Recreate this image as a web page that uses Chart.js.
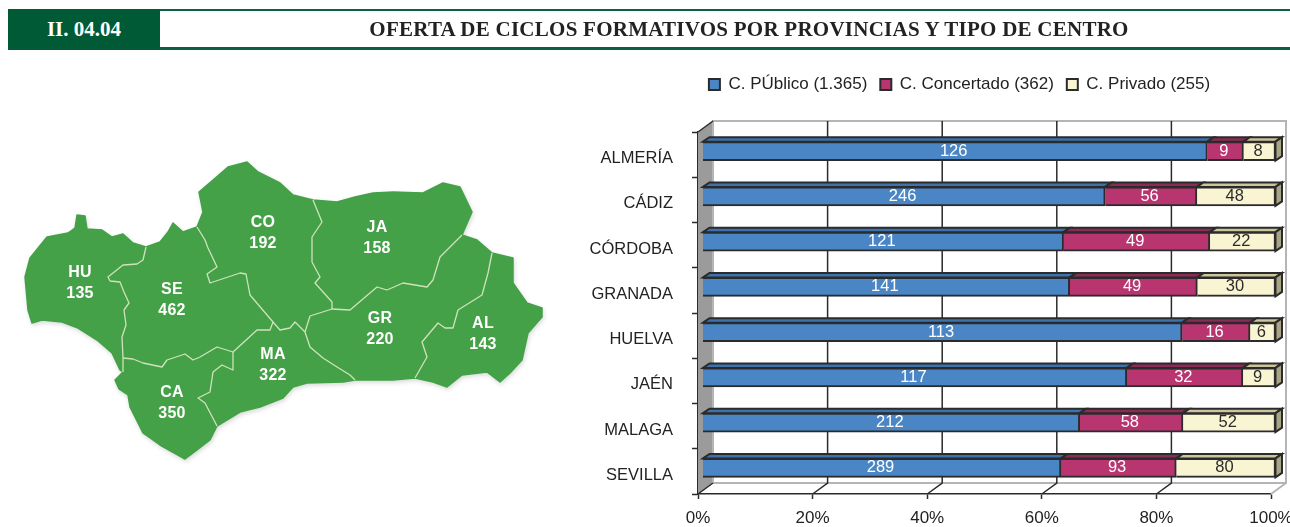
<!DOCTYPE html>
<html>
<head>
<meta charset="utf-8">
<title>Oferta de ciclos formativos</title>
<script src="https://cdn.jsdelivr.net/npm/chart.js@4"></script>
<style>
    html, body { margin: 0; padding: 0; background: #fff; overflow: hidden; }
    #page { position: relative; width: 1290px; height: 527px; }
    #myChart { position: absolute; left: 0; top: 0; }
    #code { position: absolute; left: 8px; top: 9px; width: 152px; height: 41px; background: #005a36; color: #fff; text-align: center; font: bold 21px/40px "Liberation Serif", serif; }
    #title { position: absolute; left: 160px; top: 9px; width: 1082px; padding-left: 48px; height: 36px; border-top: 2px solid #0b6141; border-bottom: 3px solid #0b6141; text-align: center; color: #222; font: bold 21px/36px "Liberation Serif", serif; letter-spacing: .25px; }
    #map { position: absolute; left: 0; top: 150px; filter: drop-shadow(1px 2px 2px rgba(0, 0, 0, .15)); }
    #map text { font: bold 16px "Liberation Sans", sans-serif; fill: #fff; text-anchor: middle; letter-spacing: .3px; }
</style>
</head>
<body>
<div id="page">
    <canvas id="myChart" width="1290" height="527"></canvas>
    <div id="code">II. 04.04</div>
    <div id="title">OFERTA DE CICLOS FORMATIVOS POR PROVINCIAS Y TIPO DE CENTRO</div>
    <svg id="map" width="560" height="330" viewBox="0 150 560 330"></svg>
</div>

<script>
// datos del grafico
const provincias = ["ALMERÍA", "CÁDIZ", "CÓRDOBA", "GRANADA", "HUELVA", "JAÉN", "MALAGA", "SEVILLA"];
const publico = [126, 246, 121, 141, 113, 117, 212, 289];
const concertado = [9, 56, 49, 49, 16, 32, 58, 93];
const privado = [8, 48, 22, 30, 6, 9, 52, 80];
const leyendas = ["C. PÚblico (1.365)", "C. Concertado (362)", "C. Privado (255)"];

// datos del mapa
const codigos = ["HU", "SE", "CO", "JA", "CA", "MA", "GR", "AL"];
const totales = [135, 462, 192, 158, 350, 322, 220, 143];
const labelPos = [[80, 277], [172, 294], [263, 227], [377, 232], [172, 397], [273, 359], [380, 323], [483, 328]];

// silueta de Andalucia y fronteras entre provincias
const silueta = "30,258 47,237 68,233 75,228 77,215 85,216 87,229 102,230 112,237 123,234 133,243 146,247 160,242 168,232 173,223 183,232 197,227 203,212 199,192 213,180 228,167 247,162 258,172 280,183 293,195 313,200 337,202 355,197 373,193 393,192 423,193 443,183 460,187 472,212 462,235 477,240 492,253 513,258 513,283 527,303 542,308 542,317 528,333 522,360 510,373 500,382 487,372 462,375 447,387 433,382 415,378 393,380 355,380 343,382 307,383 293,387 283,398 260,407 240,412 217,426 210,440 197,450 185,459 160,445 143,433 130,407 128,395 119,389 115,380 123,372 120,370 112,353 97,340 78,328 62,322 42,320 32,323 28,310 25,277";
const fronteras = [
    "146,247 143,260 137,264 123,265 108,277 110,281 120,282 124,292 129,303 124,310 126,325 122,337 123,358 123,372",
    "197,227 205,240 208,248 217,267 207,274 210,283 240,273 246,274 250,295 273,322 270,330 257,330 233,352 217,347 200,357 193,360 185,354 167,360 162,367 143,363 133,359 123,358",
    "217,426 205,403 198,398 210,392 213,372 222,365 233,370 233,352",
    "273,322 280,330 290,328 295,322 305,332 310,347 323,358 337,367 350,375 355,380",
    "305,332 310,316 332,309 350,310 377,287 387,290 403,283 427,287 433,280 440,257 452,245 462,235",
    "313,200 322,222 312,237 312,262 320,277 315,283 332,302 332,309",
    "492,253 488,273 482,295 458,310 453,328 445,328 438,323 422,342 427,357 415,378"
];

const map = document.querySelector("#map");
let svg = `<polygon points="${silueta}" fill="#44a148" stroke="#44a148" stroke-width="1.5" stroke-linejoin="round"/>`;
fronteras.forEach((f) => {
    svg += `<polyline points="${f}" fill="none" stroke="#cfe2bb" stroke-width="1.3" stroke-linejoin="round"/>`;
});
codigos.forEach((c, i) => {
    svg += `<text x="${labelPos[i][0]}" y="${labelPos[i][1]}">${c}</text>`;
    svg += `<text x="${labelPos[i][0]}" y="${labelPos[i][1] + 21}">${totales[i]}</text>`;
});
map.innerHTML = svg;

// cada barra va al 100%
function porcentaje(serie) {
    return serie.map((v, i) => v * 100 / (publico[i] + concertado[i] + privado[i]));
}

const LINE = "#2b2b2b";
const WALL = { x: 15, y: -11 };
const BAR = { x: 4.5, y: -3.5 };
const SIDE = { x: 6.5, y: -4.5 };

// pared del fondo, suelo y lineas de grid en falso 3D
const wallPlugin = {
    id: "wall",
    beforeDatasetsDraw(chart) {
        const { ctx, chartArea: a, scales } = chart;
        ctx.save();
        ctx.fillStyle = "#9b9b9b";
        ctx.beginPath();
        ctx.moveTo(a.left, a.top);
        ctx.lineTo(a.left + WALL.x, a.top + WALL.y);
        ctx.lineTo(a.left + WALL.x, a.bottom + WALL.y);
        ctx.lineTo(a.left, a.bottom);
        ctx.closePath();
        ctx.fill();

        ctx.strokeStyle = "#b5b5b5";
        ctx.lineWidth = 2;
        ctx.beginPath();
        ctx.moveTo(a.left + WALL.x, a.bottom + WALL.y);
        ctx.lineTo(a.left + WALL.x, a.top + WALL.y);
        ctx.lineTo(a.right + WALL.x, a.top + WALL.y);
        ctx.lineTo(a.right + WALL.x, a.bottom + WALL.y);
        ctx.lineTo(a.left + WALL.x, a.bottom + WALL.y);
        ctx.moveTo(a.right + WALL.x, a.bottom + WALL.y);
        ctx.lineTo(a.right, a.bottom);
        ctx.stroke();

        ctx.lineWidth = 1.5;
        ctx.strokeStyle = LINE;
        scales.x.ticks.forEach((t) => {
            const x = scales.x.getPixelForValue(t.value);
            if (t.value > 0 && t.value < 100) {
                ctx.beginPath();
                ctx.moveTo(x + WALL.x, a.top + WALL.y);
                ctx.lineTo(x + WALL.x, a.bottom + WALL.y);
                ctx.lineTo(x, a.bottom);
                ctx.stroke();
            }
        });
        ctx.beginPath();
        ctx.moveTo(a.left, a.top);
        ctx.lineTo(a.left + WALL.x, a.top + WALL.y);
        ctx.moveTo(a.left, a.bottom);
        ctx.lineTo(a.left + WALL.x, a.bottom + WALL.y);
        ctx.stroke();
        ctx.restore();
    }
};

// caras de arriba y lateral de las barras; las barras se desplazan un poco
const barPlugin = {
    id: "bars3d",
    beforeDatasetsDraw(chart) {
        const ctx = chart.ctx;
        ctx.save();
        ctx.translate(BAR.x, BAR.y);
        ctx.lineWidth = 2;
        ctx.strokeStyle = LINE;
        chart.data.datasets.forEach((ds, d) => {
            chart.getDatasetMeta(d).data.forEach((bar) => {
                const top = bar.y - bar.height / 2;
                const bottom = bar.y + bar.height / 2;
                ctx.fillStyle = ds.topColor;
                ctx.beginPath();
                ctx.moveTo(bar.base, top);
                ctx.lineTo(bar.base + SIDE.x, top + SIDE.y);
                ctx.lineTo(bar.x + SIDE.x, top + SIDE.y);
                ctx.lineTo(bar.x, top);
                ctx.closePath();
                ctx.fill();
                ctx.stroke();
                if (d === chart.data.datasets.length - 1) {
                    ctx.fillStyle = ds.sideColor;
                    ctx.beginPath();
                    ctx.moveTo(bar.x, top);
                    ctx.lineTo(bar.x + SIDE.x, top + SIDE.y);
                    ctx.lineTo(bar.x + SIDE.x, bottom + SIDE.y);
                    ctx.lineTo(bar.x, bottom);
                    ctx.closePath();
                    ctx.fill();
                    ctx.stroke();
                }
            });
        });
    },
    afterDatasetsDraw(chart) {
        const ctx = chart.ctx;
        // etiquetas con el numero de ciclos
        ctx.font = '16.5px "Liberation Sans"';
        ctx.textAlign = "center";
        ctx.textBaseline = "middle";
        chart.data.datasets.forEach((ds, d) => {
            chart.getDatasetMeta(d).data.forEach((bar, i) => {
                ctx.fillStyle = ds.labelColor;
                ctx.fillText(ds.counts[i], (bar.base + bar.x) / 2 - 1.5, bar.y);
            });
        });
        ctx.restore();
    }
};

// leyenda con el alto justo hasta el area del grafico, y etiquetas de provincia sin recortar
const layoutPlugin = {
    id: "ajustes",
    beforeInit(chart) {
        const fit = chart.legend.fit;
        chart.legend.fit = function () {
            fit.call(this);
            this.height = 69;
        };
    },
    afterLayout(chart) {
        chart.scales.y.left = 570;
    }
};

function serie(i, datos, color, topColor, labelColor) {
    return {
        label: leyendas[i],
        data: porcentaje(datos),
        counts: datos,
        backgroundColor: color,
        borderColor: LINE,
        borderWidth: 2,
        barThickness: 19,
        clip: false,
        topColor: topColor,
        sideColor: "#a9a583",
        labelColor: labelColor
    };
}

new Chart(document.querySelector("#myChart"), {
    type: "bar",
    data: {
        labels: provincias,
        datasets: [
            serie(0, publico, "#4a86c5", "#3c72ad", "#fff"),
            serie(1, concertado, "#b83570", "#8c2a58", "#fff"),
            serie(2, privado, "#f9f4d2", "#cdc59b", "#2b2b2b")
        ]
    },
    plugins: [layoutPlugin, wallPlugin, barPlugin],
    options: {
        indexAxis: "y",
        responsive: false,
        animation: false,
        layout: { padding: { left: 648, right: 19, top: 63, bottom: 0 } },
        plugins: {
            tooltip: { enabled: false },
            legend: {
                position: "top",
                labels: { boxWidth: 11, boxHeight: 11, padding: 13, color: "#222", font: { family: '"Liberation Sans"', size: 17 } }
            }
        },
        scales: {
            x: {
                stacked: true,
                min: 0,
                max: 100,
                afterFit(scale) {
                    scale.height = 33;
                    scale.paddingLeft = 0;
                    scale.paddingRight = 0;
                },
                border: { color: LINE, width: 1.5 },
                grid: { drawOnChartArea: false, tickLength: 5, tickColor: LINE, tickWidth: 1.5 },
                ticks: {
                    stepSize: 20,
                    padding: 9,
                    maxRotation: 0,
                    autoSkip: false,
                    color: "#222",
                    font: { family: '"Liberation Sans"', size: 17 },
                    callback: (v) => v + "%"
                }
            },
            y: {
                stacked: true,
                afterFit(scale) { scale.width = 50; },
                border: { color: LINE, width: 1.5 },
                grid: { drawOnChartArea: false, tickLength: 6, tickColor: LINE, tickWidth: 1.5 },
                ticks: { padding: 19, labelOffset: 4, autoSkip: false, color: "#222", font: { family: '"Liberation Sans"', size: 16.5 } }
            }
        }
    }
});
</script>
</body>
</html>
